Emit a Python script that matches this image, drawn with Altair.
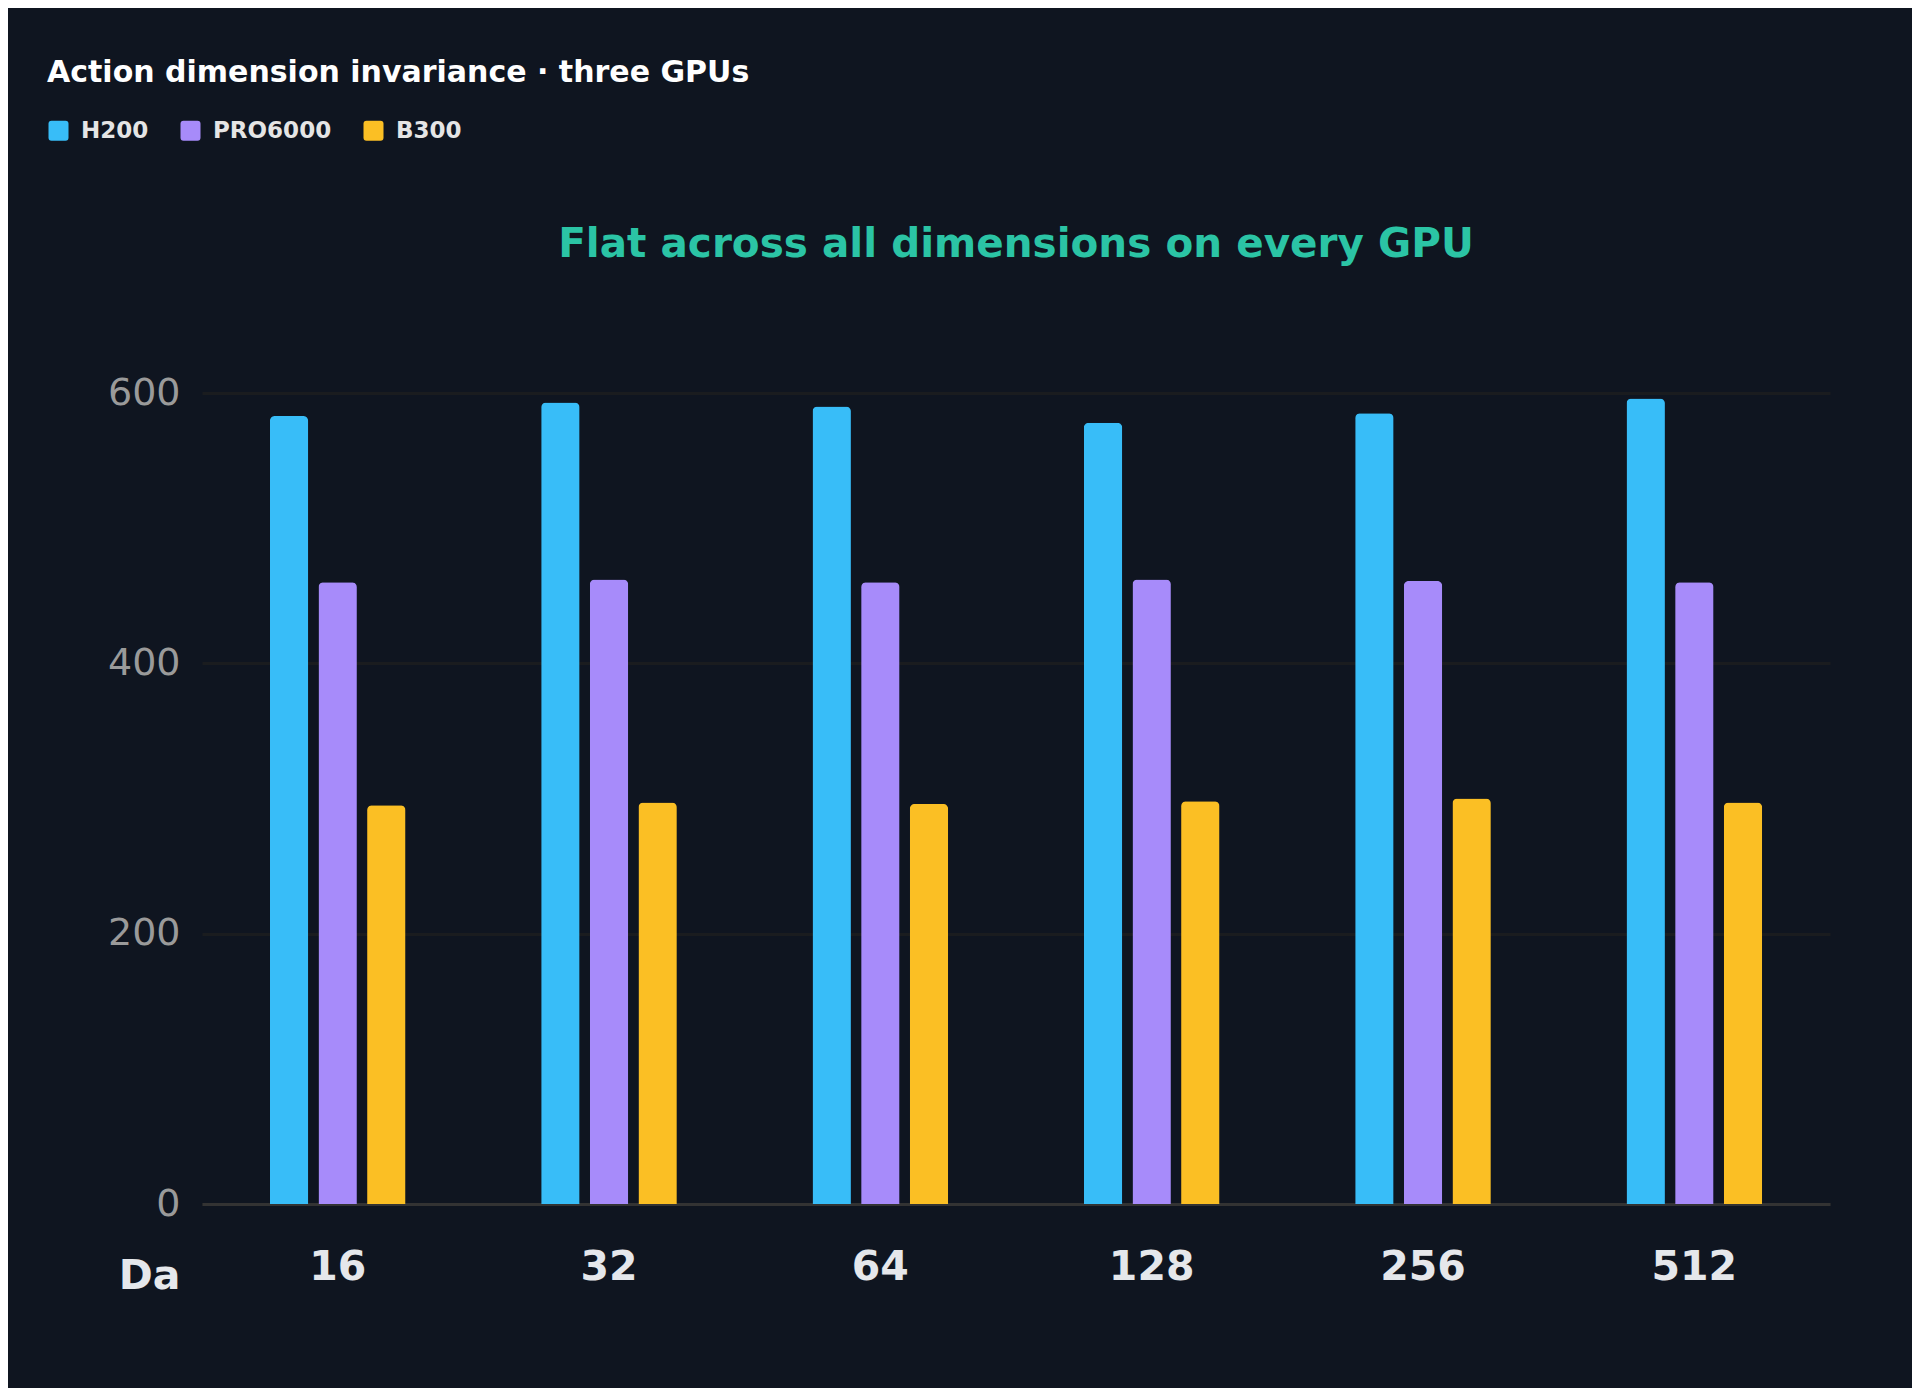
import altair as alt
import pandas as pd

# ---- data ----
dims = ["16", "32", "64", "128", "256", "512"]
gpus = ["H200", "PRO6000", "B300"]
h200 = [583, 593, 590, 578, 585, 596]
pro6000 = [460, 462, 460, 462, 461, 460]
b300 = [295, 297, 296, 298, 300, 297]
colors = ["#38bdf8", "#a78bfa", "#fbbf24"]
y_ticks = [0, 200, 400, 600]

heading = "Action dimension invariance · three GPUs"
subtitle = "Flat across all dimensions on every GPU"

rows = []
for g, vals in zip(gpus, [h200, pro6000, b300]):
    for d, v in zip(dims, vals):
        rows.append({"dim": d, "gpu": g, "value": v})
df = pd.DataFrame(rows)

FONT = "DejaVu Sans"
W, H = 1628, 811
rounded_square = "M-0.7,-1H0.7Q1,-1,1,-0.7V0.7Q1,1,0.7,1H-0.7Q-1,1,-1,0.7V-0.7Q-1,-1,-0.7,-1Z"

bars = (
    alt.Chart(df)
    .mark_bar(cornerRadiusTopLeft=5, cornerRadiusTopRight=5)
    .encode(
        x=alt.X(
            "dim:O",
            sort=dims,
            scale=alt.Scale(paddingInner=0.5, paddingOuter=0.25),
            axis=alt.Axis(
                title="Da",
                titleX=-22,
                titleY=84,
                titleAlign="right",
                titleBaseline="alphabetic",
                titleAngle=0,
                titleFont=FONT,
                titleFontSize=41,
                titleFontWeight="bold",
                titleColor="#e5e7eb",
                labelFont=FONT,
                labelFontSize=41,
                labelFontWeight="bold",
                labelColor="#e5e7eb",
                labelAngle=0,
                labelPadding=43,
                ticks=False,
                tickSize=0,
                domain=True,
                domainColor="#333333",
                domainWidth=3,
                grid=False,
            ),
        ),
        xOffset=alt.XOffset(
            "gpu:N", sort=gpus, scale=alt.Scale(paddingInner=0.21, paddingOuter=0)
        ),
        y=alt.Y(
            "value:Q",
            scale=alt.Scale(domain=[0, 600], nice=False),
            axis=alt.Axis(
                title=None,
                values=y_ticks,
                labelFont=FONT,
                labelFontSize=38,
                labelColor="#9a9a9a",
                labelPadding=22,
                ticks=False,
                tickSize=0,
                domain=False,
                grid=True,
                gridColor="#1a1c1f",
                gridWidth=3,
            ),
        ),
        color=alt.Color(
            "gpu:N",
            sort=gpus,
            scale=alt.Scale(domain=gpus, range=colors),
            legend=alt.Legend(
                title=heading,
                orient="none",
                legendX=-155,
                legendY=-335,
                direction="horizontal",
                titleFont=FONT,
                titleFontSize=30,
                titleFontWeight="bold",
                titleColor="#ffffff",
                titleLimit=2000,
                titleAnchor="start",
                titleOrient="top",
                titlePadding=31,
                symbolType=rounded_square,
                symbolSize=400,
                symbolStrokeWidth=0,
                labelFont=FONT,
                labelFontSize=23,
                labelFontWeight="bold",
                labelColor="#e5e5e5",
                labelOffset=11,
                columnPadding=30,
                padding=0,
            ),
        ),
    )
)

sub = (
    alt.Chart(pd.DataFrame({"t": [subtitle]}))
    .mark_text(
        font=FONT,
        fontSize=40.5,
        fontWeight="bold",
        color="#2bc4a5",
        align="center",
        baseline="alphabetic",
    )
    .encode(text="t:N", x=alt.value(W / 2), y=alt.value(-136))
)

chart = (
    alt.layer(bars, sub)
    .properties(
        width=W,
        height=H,
        autosize=alt.AutoSizeParams(type="none"),
        padding={"left": 194, "top": 385, "right": 82, "bottom": 184},
    )
    .configure(background="#0f1520")
    .configure_view(stroke=None)
)

chart.save("out.html", embed_options={"renderer": "svg", "actions": False})
